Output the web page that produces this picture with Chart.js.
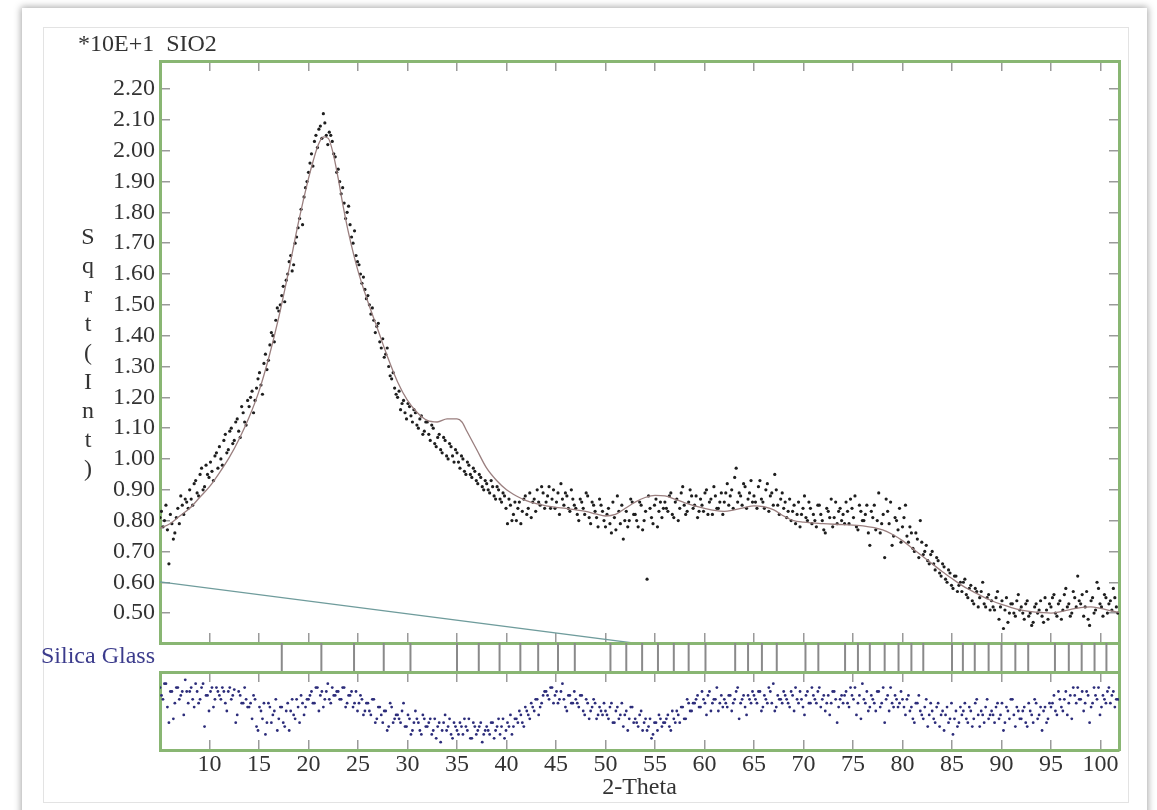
<!DOCTYPE html>
<html><head><meta charset="utf-8">
<script src="https://cdn.jsdelivr.net/npm/chart.js@4.4.1/dist/chart.umd.min.js"></script>
<style>
html,body{margin:0;padding:0;background:#fff;width:1157px;height:810px;overflow:hidden;}
#page{position:relative;width:1157px;height:810px;}
.card{position:absolute;left:22px;top:8px;width:1125px;height:815px;background:#fff;box-shadow:0 0 7px 1px rgba(0,0,0,0.35);}
.inner{position:absolute;left:43px;top:27px;width:1084px;height:774px;border:1px solid #e3e3e3;}
canvas{position:absolute;left:0;top:0;}
.lbl{position:absolute;font-family:'Liberation Serif','DejaVu Serif',serif;font-size:24px;line-height:24px;color:#333;white-space:pre;}
</style></head><body>
<div id="page">
<div class="card"></div><div class="inner"></div>
<canvas id="main" width="1157" height="810"></canvas>
<canvas id="band" width="1157" height="810"></canvas>
<canvas id="diff" width="1157" height="810"></canvas>
<div class="lbl" style="left:78px;top:31px">*10E+1  SIO2</div>
<div class="lbl" style="left:41px;top:643px;color:#3b3b8c">Silica Glass</div>
<div class="lbl" style="left:73px;top:222px;width:30px;text-align:center;line-height:29px;">S<br>q<br>r<br>t<br>(<br>I<br>n<br>t<br>)</div>
</div>
<script>
// ---------- data ----------
const obsTheta = [
5,5.3,5.6,5.9,6.2,6.5,6.8,7.1,7.4,7.7,
8,8.3,8.6,8.9,9.2,9.5,9.8,10.1,10.4,10.7,
11,11.3,11.6,11.9,12.2,12.5,12.8,13.1,13.4,13.7,
14,14.3,14.6,14.9,15.2,15.5,15.8,16.1,16.4,16.7,
17,17.3,17.6,17.9,18.2,18.5,18.8,19.1,19.4,19.7,
20,20.3,20.6,20.9,21.2,21.5,21.8,22.1,22.4,22.7,
23,23.3,23.6,23.9,24.2,24.5,24.8,25.1,25.4,25.7,
26,26.3,26.6,26.9,27.2,27.5,27.8,28.1,28.4,28.7,
29,29.3,29.6,29.9,30.2,30.5,30.8,31.1,31.4,31.7,
32,32.3,32.6,32.9,33.2,33.5,33.8,34.1,34.4,34.7,
35,35.3,35.6,35.9,36.2,36.5,36.8,37.1,37.4,37.7,
38,38.3,38.6,38.9,39.2,39.5,39.8,40.1,40.4,40.7,
41,41.3,41.6,41.9,42.2,42.5,42.8,43.1,43.4,43.7,
44,44.3,44.6,44.9,45.2,45.5,45.8,46.1,46.4,46.7,
47,47.3,47.6,47.9,48.2,48.5,48.8,49.1,49.4,49.7,
50,50.3,50.6,50.9,51.2,51.5,51.8,52.1,52.4,52.7,
53,53.3,53.6,53.9,54.2,54.5,54.8,55.1,55.4,55.7,
56,56.3,56.6,56.9,57.2,57.5,57.8,58.1,58.4,58.7,
59,59.3,59.6,59.9,60.2,60.5,60.8,61.1,61.4,61.7,
62,62.3,62.6,62.9,63.2,63.5,63.8,64.1,64.4,64.7,
65,65.3,65.6,65.9,66.2,66.5,66.8,67.1,67.4,67.7,
68,68.3,68.6,68.9,69.2,69.5,69.8,70.1,70.4,70.7,
71,71.3,71.6,71.9,72.2,72.5,72.8,73.1,73.4,73.7,
74,74.3,74.6,74.9,75.2,75.5,75.8,76.1,76.4,76.7,
77,77.3,77.6,77.9,78.2,78.5,78.8,79.1,79.4,79.7,
80,80.3,80.6,80.9,81.2,81.5,81.8,82.1,82.4,82.7,
83,83.3,83.6,83.9,84.2,84.5,84.8,85.1,85.4,85.7,
86,86.3,86.6,86.9,87.2,87.5,87.8,88.1,88.4,88.7,
89,89.3,89.6,89.9,90.2,90.5,90.8,91.1,91.4,91.7,
92,92.3,92.6,92.9,93.2,93.5,93.8,94.1,94.4,94.7,
95,95.3,95.6,95.9,96.2,96.5,96.8,97.1,97.4,97.7,
98,98.3,98.6,98.9,99.2,99.5,99.8,100.1,100.4,100.7,
101,101.3,101.6];

const obsSqrtInt = [
0.81,0.78,0.85,0.66,0.79,0.76,0.84,0.88,0.82,0.86,
0.90,0.85,0.93,0.88,0.97,0.91,0.95,0.99,0.93,1.02,
1.04,0.98,1.08,1.03,1.10,1.06,1.13,1.07,1.15,1.11,
1.17,1.22,1.19,1.26,1.24,1.31,1.29,1.37,1.40,1.45,
1.48,1.53,1.51,1.60,1.66,1.63,1.72,1.78,1.76,1.88,
1.93,1.99,2.03,2.01,2.08,2.12,2.05,2.06,2.03,1.98,
1.94,1.86,1.83,1.80,1.76,1.70,1.66,1.63,1.57,1.55,
1.53,1.47,1.45,1.43,1.38,1.39,1.34,1.30,1.26,1.23,
1.20,1.16,1.19,1.13,1.17,1.12,1.15,1.10,1.14,1.09,
1.12,1.06,1.10,1.04,1.08,1.02,1.06,1.00,1.04,0.99,
1.02,0.97,1.00,0.95,0.98,0.94,0.96,0.92,0.94,0.90,
0.92,0.89,0.91,0.87,0.90,0.86,0.88,0.79,0.85,0.82,
0.80,0.86,0.83,0.88,0.84,0.81,0.87,0.90,0.85,0.89,
0.86,0.91,0.87,0.84,0.89,0.92,0.85,0.88,0.83,0.87,
0.84,0.80,0.86,0.82,0.88,0.79,0.85,0.81,0.87,0.83,
0.78,0.84,0.76,0.81,0.88,0.79,0.74,0.83,0.80,0.86,
0.82,0.78,0.85,0.80,0.61,0.84,0.79,0.87,0.83,0.81,
0.86,0.83,0.89,0.81,0.87,0.84,0.91,0.82,0.86,0.88,
0.85,0.81,0.87,0.83,0.90,0.86,0.82,0.88,0.84,0.89,
0.86,0.92,0.88,0.84,0.97,0.89,0.85,0.91,0.87,0.93,
0.88,0.84,0.93,0.86,0.90,0.83,0.89,0.95,0.85,0.87,
0.84,0.81,0.87,0.83,0.79,0.86,0.82,0.88,0.80,0.84,
0.82,0.78,0.85,0.80,0.76,0.83,0.87,0.81,0.79,0.84,
0.82,0.86,0.79,0.84,0.88,0.77,0.83,0.80,0.85,0.72,
0.81,0.77,0.89,0.79,0.68,0.83,0.86,0.75,0.80,0.84,
0.78,0.85,0.73,0.76,0.70,0.74,0.80,0.69,0.72,0.66,
0.70,0.64,0.67,0.62,0.65,0.60,0.63,0.58,0.62,0.59,
0.57,0.61,0.55,0.59,0.53,0.57,0.55,0.60,0.52,0.56,
0.54,0.51,0.57,0.52,0.45,0.55,0.50,0.53,0.49,0.56,
0.52,0.48,0.54,0.50,0.47,0.53,0.51,0.49,0.55,0.48,
0.52,0.56,0.49,0.54,0.51,0.58,0.53,0.50,0.55,0.62,
0.53,0.49,0.57,0.46,0.55,0.51,0.58,0.52,0.56,0.50,
0.54,0.58,0.52];

const diffValues = [
0.6,0.3,0.7,-0.3,0.5,0.2,0.6,0.4,-0.1,0.5,
0.5,0.3,0.7,0.2,0.6,-0.4,0.4,0.5,0.1,0.6,
0.4,0.6,0.2,0.5,0.3,0.55,-0.1,0.4,0.2,0.3,
0.1,-0.2,0.3,-0.5,0.0,0.2,-0.3,0.1,-0.1,0.3,
-0.2,0.1,-0.4,0.2,0.0,-0.1,0.3,-0.3,0.2,0.1,
0.3,0.5,0.2,0.6,0.4,0.1,0.5,0.3,0.6,0.4,
0.5,0.3,0.6,0.2,0.4,0.1,0.5,0.2,0.3,0.0,
0.2,-0.1,0.3,-0.2,0.1,-0.3,0.0,-0.4,0.1,-0.2,
-0.1,-0.3,0.2,-0.4,-0.2,-0.5,0.0,-0.3,-0.6,-0.2,
-0.4,-0.2,-0.5,-0.7,-0.3,-0.5,-0.1,-0.4,-0.6,-0.3,
-0.5,-0.3,-0.6,-0.4,-0.2,-0.7,-0.4,-0.5,-0.3,-0.6,
-0.4,-0.6,-0.3,-0.5,-0.2,-0.4,-0.7,-0.3,-0.1,-0.4,
-0.2,0.0,-0.3,0.1,-0.1,0.2,0.0,0.3,0.1,0.4,
0.5,0.3,0.6,0.4,0.2,0.5,0.3,0.0,0.4,0.2,
0.3,0.1,0.4,-0.1,0.2,0.0,0.3,-0.2,0.1,-0.1,
0.0,-0.2,0.2,-0.3,0.1,-0.1,-0.4,0.0,-0.2,0.1,
-0.2,-0.4,0.0,-0.3,-0.5,-0.2,-0.6,-0.3,-0.1,-0.4,
-0.3,-0.1,-0.5,-0.2,0.0,-0.3,0.1,-0.2,0.2,0.0,
0.2,0.4,0.1,0.3,-0.1,0.5,0.2,0.3,0.0,0.4,
0.3,0.1,0.4,0.2,0.5,-0.2,0.3,0.1,0.4,0.2,
0.4,0.2,0.5,0.1,0.3,0.6,0.2,0.0,0.4,0.3,
0.5,0.3,0.1,0.4,0.6,0.2,0.3,-0.1,0.5,0.2,
0.4,0.2,0.6,0.3,0.0,0.4,0.2,0.5,-0.3,0.3,
0.2,0.5,0.1,0.4,0.6,0.2,-0.2,0.3,0.5,0.1,
0.3,0.0,0.5,0.2,-0.3,0.4,0.6,0.1,0.3,0.2,
0.3,-0.1,0.4,0.1,-0.3,0.2,0.0,-0.2,0.3,-0.1,
0.0,-0.3,0.2,-0.1,-0.5,0.1,-0.2,-0.6,0.0,-0.3,
-0.1,0.2,-0.3,0.0,-0.2,0.3,-0.4,-0.1,0.1,-0.2,
0.0,-0.3,0.2,-0.1,-0.5,0.1,-0.2,0.3,-0.4,0.0,
-0.2,0.1,-0.4,0.0,-0.3,0.2,-0.1,-0.5,0.1,-0.2,
0.1,0.4,-0.1,0.3,0.0,0.5,0.2,-0.2,0.4,0.6,
0.3,0.0,0.5,-0.3,0.2,0.4,0.6,0.1,0.3,0.5,
0.2,0.5,0.3];

// second (interleaved) set of measured steps
const obsThetaB = [
5.15,5.45,5.75,6.05,6.35,6.65,6.95,7.25,7.55,7.85,
8.15,8.45,8.75,9.05,9.35,9.65,9.95,10.25,10.55,10.85,
11.15,11.45,11.75,12.05,12.35,12.65,12.95,13.25,13.55,13.85,
14.15,14.45,14.75,15.05,15.35,15.65,15.95,16.25,16.55,16.85,
17.15,17.45,17.75,18.05,18.35,18.65,18.95,19.25,19.55,19.85,
20.15,20.45,20.75,21.05,21.35,21.65,21.95,22.25,22.55,22.85,
23.15,23.45,23.75,24.05,24.35,24.65,24.95,25.25,25.55,25.85,
26.15,26.45,26.75,27.05,27.35,27.65,27.95,28.25,28.55,28.85,
29.15,29.45,29.75,30.05,30.35,30.65,30.95,31.25,31.55,31.85,
32.15,32.45,32.75,33.05,33.35,33.65,33.95,34.25,34.55,34.85,
35.15,35.45,35.75,36.05,36.35,36.65,36.95,37.25,37.55,37.85,
38.15,38.45,38.75,39.05,39.35,39.65,39.95,40.25,40.55,40.85,
41.15,41.45,41.75,42.05,42.35,42.65,42.95,43.25,43.55,43.85,
44.15,44.45,44.75,45.05,45.35,45.65,45.95,46.25,46.55,46.85,
47.15,47.45,47.75,48.05,48.35,48.65,48.95,49.25,49.55,49.85,
50.15,50.45,50.75,51.05,51.35,51.65,51.95,52.25,52.55,52.85,
53.15,53.45,53.75,54.05,54.35,54.65,54.95,55.25,55.55,55.85,
56.15,56.45,56.75,57.05,57.35,57.65,57.95,58.25,58.55,58.85,
59.15,59.45,59.75,60.05,60.35,60.65,60.95,61.25,61.55,61.85,
62.15,62.45,62.75,63.05,63.35,63.65,63.95,64.25,64.55,64.85,
65.15,65.45,65.75,66.05,66.35,66.65,66.95,67.25,67.55,67.85,
68.15,68.45,68.75,69.05,69.35,69.65,69.95,70.25,70.55,70.85,
71.15,71.45,71.75,72.05,72.35,72.65,72.95,73.25,73.55,73.85,
74.15,74.45,74.75,75.05,75.35,75.65,75.95,76.25,76.55,76.85,
77.15,77.45,77.75,78.05,78.35,78.65,78.95,79.25,79.55,79.85,
80.15,80.45,80.75,81.05,81.35,81.65,81.95,82.25,82.55,82.85,
83.15,83.45,83.75,84.05,84.35,84.65,84.95,85.25,85.55,85.85,
86.15,86.45,86.75,87.05,87.35,87.65,87.95,88.25,88.55,88.85,
89.15,89.45,89.75,90.05,90.35,90.65,90.95,91.25,91.55,91.85,
92.15,92.45,92.75,93.05,93.35,93.65,93.95,94.25,94.55,94.85,
95.15,95.45,95.75,96.05,96.35,96.65,96.95,97.25,97.55,97.85,
98.15,98.45,98.75,99.05,99.35,99.65,99.95,100.25,100.55,100.85,
101.15,101.45,101.75];

const obsSqrtIntB = [
0.83,0.80,0.77,0.82,0.74,0.81,0.79,0.85,0.87,0.84,
0.87,0.92,0.89,0.95,0.90,0.98,0.94,0.96,1.01,0.97,
1.00,1.06,1.02,1.09,1.05,1.12,1.09,1.17,1.12,1.19,
1.20,1.15,1.23,1.28,1.21,1.34,1.32,1.41,1.38,1.49,
1.50,1.56,1.58,1.64,1.61,1.70,1.75,1.81,1.85,1.90,
1.96,1.95,2.05,2.07,2.04,2.09,2.02,2.05,1.99,1.93,
1.90,1.88,1.78,1.82,1.72,1.74,1.64,1.60,1.59,1.52,
1.50,1.49,1.41,1.44,1.36,1.33,1.36,1.27,1.28,1.21,
1.22,1.18,1.15,1.18,1.14,1.16,1.11,1.13,1.08,1.12,
1.08,1.11,1.05,1.07,1.03,1.07,1.01,1.05,1.01,1.03,
0.99,1.01,0.96,0.99,0.95,0.97,0.93,0.95,0.91,0.93,
0.90,0.93,0.88,0.91,0.87,0.89,0.84,0.87,0.80,0.86,
0.84,0.79,0.87,0.82,0.89,0.86,0.83,0.86,0.91,0.84,
0.88,0.84,0.90,0.86,0.82,0.87,0.89,0.84,0.90,0.85,
0.82,0.87,0.84,0.89,0.81,0.86,0.83,0.78,0.85,0.80,
0.82,0.79,0.86,0.77,0.83,0.85,0.80,0.78,0.87,0.82,
0.80,0.86,0.77,0.83,0.88,0.81,0.85,0.78,0.86,0.84,
0.84,0.88,0.82,0.86,0.80,0.89,0.85,0.83,0.90,0.84,
0.88,0.83,0.85,0.89,0.82,0.87,0.91,0.84,0.86,0.82,
0.89,0.85,0.90,0.94,0.86,0.88,0.92,0.84,0.89,0.86,
0.86,0.91,0.87,0.84,0.92,0.88,0.85,0.90,0.82,0.89,
0.86,0.83,0.80,0.85,0.82,0.78,0.84,0.81,0.86,0.79,
0.80,0.85,0.82,0.77,0.84,0.81,0.78,0.86,0.83,0.80,
0.79,0.83,0.87,0.81,0.78,0.85,0.80,0.82,0.76,0.83,
0.85,0.80,0.76,0.82,0.87,0.79,0.72,0.81,0.77,0.73,
0.81,0.75,0.78,0.71,0.76,0.68,0.73,0.70,0.67,0.69,
0.66,0.68,0.63,0.66,0.61,0.64,0.59,0.62,0.57,0.60,
0.60,0.56,0.58,0.54,0.58,0.52,0.57,0.53,0.55,0.51,
0.52,0.55,0.48,0.54,0.51,0.47,0.53,0.50,0.54,0.51,
0.50,0.53,0.49,0.46,0.52,0.50,0.54,0.47,0.51,0.53,
0.55,0.50,0.53,0.48,0.56,0.52,0.49,0.57,0.52,0.54,
0.56,0.52,0.48,0.54,0.50,0.60,0.53,0.49,0.55,0.53,
0.51,0.55,0.50];

const diffValuesB = [
0.4,0.7,0.1,0.5,-0.2,0.6,0.3,0.5,0.8,0.2,
0.6,0.1,0.5,0.3,0.7,0.4,0.0,0.6,0.3,0.5,
0.3,0.5,0.0,0.6,0.4,-0.3,0.5,0.2,0.6,0.1,
0.2,0.4,-0.4,0.1,-0.2,-0.6,0.2,-0.3,0.0,-0.5,
0.1,-0.3,0.0,-0.5,0.3,-0.2,0.1,0.4,-0.1,0.3,
0.4,0.2,0.6,0.0,0.5,0.3,0.7,0.2,0.4,0.5,
0.3,0.6,0.1,0.4,0.5,0.2,0.0,0.4,-0.1,0.2,
0.0,0.3,-0.3,0.1,-0.1,0.0,-0.5,0.2,-0.3,-0.1,
-0.2,0.0,-0.4,-0.1,-0.6,-0.3,-0.2,-0.5,-0.1,-0.4,
-0.3,-0.6,-0.2,-0.4,-0.8,-0.3,-0.5,-0.2,-0.7,-0.4,
-0.6,-0.4,-0.2,-0.5,-0.7,-0.3,-0.6,-0.4,-0.8,-0.5,
-0.5,-0.3,-0.7,-0.4,-0.6,-0.2,-0.5,-0.4,-0.6,-0.2,
-0.3,-0.1,-0.4,0.0,-0.2,0.1,0.3,-0.1,0.2,0.5,
0.4,0.6,0.2,0.5,0.3,0.7,0.1,0.4,0.2,0.5,
0.2,0.4,0.0,0.3,-0.2,0.1,0.2,-0.1,0.0,0.2,
-0.1,0.1,-0.3,0.0,-0.2,0.2,-0.1,-0.5,0.1,-0.3,
-0.3,-0.1,-0.5,-0.2,-0.4,-0.7,-0.3,-0.5,-0.2,-0.3,
-0.2,-0.4,0.0,-0.3,-0.1,0.1,-0.2,0.3,0.0,0.2,
0.3,0.1,0.5,0.2,0.4,0.0,0.3,0.6,0.2,0.1,
0.2,0.4,0.0,0.3,0.6,0.2,0.4,-0.1,0.3,0.5,
0.3,0.5,0.0,0.4,0.2,0.5,0.7,0.1,0.3,0.2,
0.4,0.2,0.5,0.0,0.3,0.5,0.1,0.4,0.2,0.6,
0.3,0.5,0.1,0.4,0.2,-0.1,0.5,0.3,0.1,0.4,
0.4,0.2,0.6,0.3,-0.1,0.4,0.7,0.2,0.0,0.4,
0.2,0.5,0.1,0.6,0.3,0.0,0.2,0.4,0.1,0.5,
0.1,0.3,0.0,-0.2,0.2,0.4,-0.1,0.1,-0.4,0.2,
-0.2,0.1,-0.4,0.0,-0.1,-0.3,0.2,-0.2,-0.4,0.1,
0.0,-0.2,0.1,-0.4,0.2,-0.1,0.0,-0.3,0.3,-0.1,
-0.1,0.1,-0.2,0.2,-0.3,0.0,0.3,-0.1,0.1,-0.2,
0.0,-0.3,0.2,-0.1,0.3,-0.2,0.1,0.0,-0.3,0.2,
0.2,0.0,0.5,0.1,0.3,-0.1,0.4,0.6,0.2,0.3,
0.5,0.2,0.4,0.1,0.6,0.3,-0.1,0.4,0.2,0.6,
0.4,0.1,0.3];

const calcTheta = [5,6,7,8,9,10,11,12,13,14,15,16,17,18,19,20,20.5,21,21.5,22,22.5,23,23.5,24,25,26,27,28,29,30,31,32,33,34,35,35.5,36,37,38,39,40,41,42,43,44,45,46,47,48,49,50,51,52,53,54,55,56,57,58,59,60,61,62,63,64,65,66,67,68,69,70,72,74,76,78,79,80,81,82,83,84,85,86,87,88,89,90,91,92,93,94,95,96,97,98,99,100,101,101.87];
const calcSqrtInt = [0.775,0.79,0.815,0.84,0.875,0.91,0.955,1.005,1.065,1.135,1.22,1.33,1.46,1.61,1.77,1.91,1.97,2.02,2.045,2.04,1.99,1.91,1.82,1.74,1.61,1.51,1.42,1.33,1.25,1.19,1.15,1.125,1.12,1.13,1.13,1.12,1.09,1.03,0.97,0.93,0.90,0.88,0.865,0.855,0.848,0.843,0.84,0.835,0.83,0.822,0.815,0.82,0.84,0.86,0.875,0.882,0.88,0.87,0.858,0.848,0.84,0.833,0.83,0.835,0.842,0.848,0.845,0.835,0.815,0.80,0.795,0.79,0.787,0.783,0.77,0.755,0.735,0.71,0.685,0.66,0.635,0.612,0.59,0.572,0.555,0.54,0.528,0.518,0.51,0.505,0.502,0.50,0.505,0.512,0.518,0.52,0.515,0.508,0.502];

const bgTheta = [5, 101.87];
const bgSqrtInt = [0.601, 0.200];

const silicaGlass2Theta = [17.3,21.3,24.6,27.6,30.3,35.0,37.2,39.3,41.4,43.2,45.2,46.9,50.5,52.1,53.7,55.3,56.9,58.4,60.1,63.1,64.4,65.8,67.3,70.2,71.5,74.2,75.5,76.7,78.2,79.6,80.9,82.1,85.0,86.1,87.3,88.7,90.0,91.4,92.7,95.4,96.8,98.1,99.4,100.6];

const xTickLabels = [10,15,20,25,30,35,40,45,50,55,60,65,70,75,80,85,90,95,100];
const yTickLabels = ['0.50','0.60','0.70','0.80','0.90','1.00','1.10','1.20','1.30','1.40','1.50','1.60','1.70','1.80','1.90','2.00','2.10','2.20'];

// ---------- styling ----------
const FONT = "'Liberation Serif','DejaVu Serif','Times New Roman',serif";
Chart.defaults.font.family = FONT;
Chart.defaults.font.size = 24;
Chart.defaults.color = '#333';
const GREEN = '#89b673';
const TICK = '#9a9a9a';
const X_MIN = 5, X_MAX = 101.87;
const W = 1157, H = 810;

const pairs = (xs, ys) => xs.map((x, i) => ({x: x, y: ys[i]}));
const xFilter = s => { s.ticks = xTickLabels.map(v => ({value: v})); };
const yFilter = s => { s.ticks = yTickLabels.map(v => ({value: parseFloat(v)})); };

function xScale(pos, size, o) {
  o = o || {};
  return {
    type: 'linear', axis: 'x', position: pos, min: X_MIN, max: X_MAX,
    afterBuildTicks: xFilter,
    ticks: Object.assign({display: false, padding: 10, maxRotation: 0, autoSkip: false, color: '#333'}, o.ticks || {}),
    grid: o.noTicks ? {display: false} : {drawOnChartArea: false, drawTicks: true, tickLength: -10, color: TICK, lineWidth: 1.5},
    border: {display: true, color: GREEN, width: 3},
    title: o.title || {display: false},
    afterFit: s => { s.height = size; }
  };
}
function yScale(pos, size, min, max, o) {
  o = o || {};
  const sc = {
    type: 'linear', axis: 'y', position: pos, min: min, max: max,
    ticks: Object.assign({display: false, padding: 15, color: '#333'}, o.ticks || {}),
    grid: o.noTicks ? {display: false} : {drawOnChartArea: false, drawTicks: true, tickLength: -10, color: TICK, lineWidth: 1.5},
    border: {display: o.noBorder ? false : true, color: GREEN, width: 3},
    afterFit: s => { s.width = size; }
  };
  if (o.filter) sc.afterBuildTicks = o.filter;
  return sc;
}
const common = {
  responsive: false, animation: false, events: [],
  layout: {padding: 0},
  plugins: {legend: {display: false}, tooltip: {enabled: false}, title: {display: false}}
};
const obsStyle = {pointRadius: 1.6, pointBackgroundColor: '#1e1e1e', pointBorderWidth: 0, xAxisID: 'x', yAxisID: 'y'};
const diffStyle = {pointRadius: 1.4, pointBackgroundColor: '#2c2c7a', pointBorderWidth: 0, xAxisID: 'x', yAxisID: 'y'};

// ---------- main pattern ----------
new Chart(document.getElementById('main'), {
  type: 'scatter',
  data: {datasets: [
    {label: 'Background', type: 'line', data: pairs(bgTheta, bgSqrtInt), borderColor: '#6f9c9c', borderWidth: 1.3, pointRadius: 0, xAxisID: 'x', yAxisID: 'y'},
    {label: 'Calculated', type: 'line', data: pairs(calcTheta, calcSqrtInt), borderColor: '#9a7f7f', borderWidth: 1.3, pointRadius: 0, tension: 0.4, cubicInterpolationMode: 'monotone', xAxisID: 'x', yAxisID: 'y'},
    Object.assign({label: 'Observed'}, obsStyle, {data: pairs(obsTheta, obsSqrtInt)}),
    Object.assign({label: 'Observed (B)'}, obsStyle, {data: pairs(obsThetaB, obsSqrtIntB)})
  ]},
  options: Object.assign({}, common, {
    scales: {
      x: xScale('bottom', H - 643),
      xTop: xScale('top', 61),
      y: yScale('left', 160, 0.403, 2.291, {filter: yFilter, ticks: {display: true, callback: v => v.toFixed(2)}}),
      yRight: yScale('right', W - 1119, 0.403, 2.291, {filter: yFilter})
    }
  })
});

// ---------- reflection markers ----------
new Chart(document.getElementById('band'), {
  type: 'scatter',
  data: {datasets: [
    {label: 'Silica Glass', data: silicaGlass2Theta.map(t => ({x: t, y: 0.5})), pointStyle: 'line', rotation: 90, pointRadius: 14.5, pointBorderColor: '#8a8a8a', pointBorderWidth: 2, xAxisID: 'x', yAxisID: 'y'}
  ]},
  options: Object.assign({}, common, {
    scales: {
      x: xScale('bottom', H - 672, {noTicks: true}),
      xTop: xScale('top', 643, {noTicks: true}),
      y: yScale('left', 160, 0, 1, {noTicks: true, noBorder: true}),
      yRight: yScale('right', W - 1119, 0, 1, {noTicks: true})
    }
  })
});

// ---------- difference ----------
new Chart(document.getElementById('diff'), {
  type: 'scatter',
  data: {datasets: [
    Object.assign({label: 'Difference'}, diffStyle, {data: pairs(obsTheta, diffValues)}),
    Object.assign({label: 'Difference (B)'}, diffStyle, {data: pairs(obsThetaB, diffValuesB)})
  ]},
  options: Object.assign({}, common, {
    scales: {
      x: xScale('bottom', H - 750, {ticks: {display: true}, title: {display: true, text: '2-Theta', color: '#333', font: {size: 24}, padding: {top: 0, bottom: 8}}}),
      xTop: xScale('top', 672),
      y: yScale('left', 160, -1, 1, {noTicks: true}),
      yRight: yScale('right', W - 1119, -1, 1, {noTicks: true})
    }
  })
});
</script>
</body></html>
